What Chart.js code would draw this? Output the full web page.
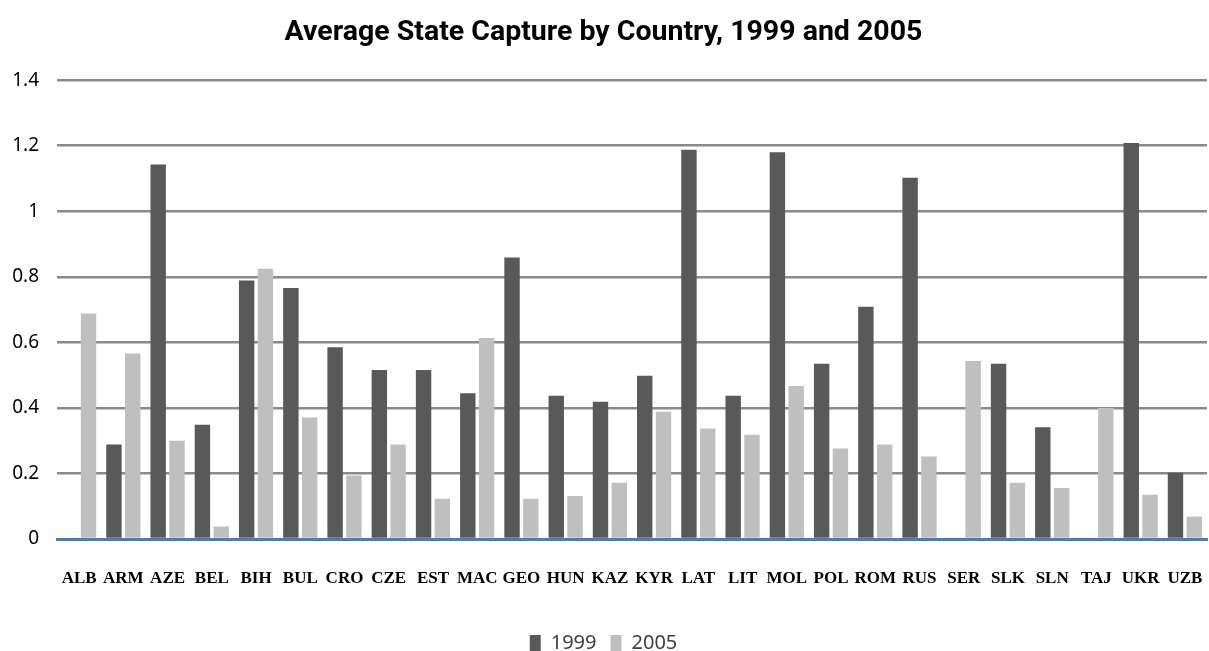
<!DOCTYPE html>
<html lang="en">
  <head>
    <meta charset="UTF-8" />
    <title>Average State Capture by Country, 1999 and 2005</title>
    <script src="https://cdn.jsdelivr.net/npm/chart.js@4.4.0/dist/chart.umd.min.js"></script>
    <style>
      body { margin: 0; background: #fff; }
      #wrap { width: 1209px; height: 651px; }
    </style>
  </head>
  <body>
    <div id="wrap"><canvas id="myChart"></canvas></div>
    <script>
      const countries = ["ALB", "ARM", "AZE", "BEL", "BIH", "BUL", "CRO", "CZE", "EST", "MAC", "GEO", "HUN", "KAZ", "KYR", "LAT", "LIT", "MOL", "POL", "ROM", "RUS", "SER", "SLK", "SLN", "TAJ", "UKR", "UZB"]
      const capture1999 = [0, 0.288, 1.143, 0.349, 0.789, 0.766, 0.585, 0.516, 0.516, 0.445, 0.859, 0.437, 0.419, 0.498, 1.188, 0.437, 1.18, 0.535, 0.709, 1.102, 0, 0.535, 0.341, 0, 1.208, 0.202]
      const capture2005 = [0.688, 0.566, 0.3, 0.038, 0.825, 0.371, 0.194, 0.288, 0.123, 0.613, 0.123, 0.131, 0.172, 0.388, 0.337, 0.318, 0.467, 0.276, 0.288, 0.252, 0.543, 0.172, 0.156, 0.4, 0.135, 0.069]
      const yTicks = [0, 0.2, 0.4, 0.6, 0.8, 1, 1.2, 1.4]

      const ctx = document.getElementById("myChart").getContext("2d")
      const myChart = new Chart(ctx, {
        type: "bar",
        data: {
          labels: countries,
          datasets: [
            {
              label: "1999",
              data: capture1999,
              backgroundColor: "#595959",
              categoryPercentage: 0.85,
              barPercentage: 0.82,
            },
            {
              label: "2005",
              data: capture2005,
              backgroundColor: "#bfbfbf",
              categoryPercentage: 0.85,
              barPercentage: 0.82,
            },
          ],
        },
        options: {
          responsive: true,
          maintainAspectRatio: false,
          animation: false,
          layout: { padding: { left: 0, right: 2, top: 0, bottom: -12 } },
          plugins: {
            title: {
              display: true,
              text: "Average State Capture by Country, 1999 and 2005",
              color: "#000",
              font: { family: "Roboto", size: 28.5, weight: "bold" },
              padding: { top: 16, bottom: 30 },
            },
            legend: {
              position: "bottom",
              labels: {
                color: "#404040",
                font: { family: "Noto Sans", size: 20 },
                boxWidth: 11,
                boxHeight: 16,
                padding: 14,
              },
            },
            tooltip: { enabled: false },
          },
          scales: {
            x: {
              grid: {
                display: true,
                color: "rgba(0,0,0,0)",
                drawOnChartArea: false,
                drawTicks: true,
                tickLength: 27,
              },
              border: { color: "#4a7ebb", width: 3 },
              ticks: {
                color: "#000",
                font: { family: "Liberation Serif", size: 17, weight: "bold" },
                maxRotation: 0,
                autoSkip: false,
                padding: 2,
              },
              afterFit: (s) => { s.height = 80 },
            },
            y: {
              min: 0,
              max: 1.4,
              afterBuildTicks: (s) => { s.ticks = yTicks.map((v) => ({ value: v })) },
              border: { display: false },
              grid: {
                color: (c) => (c.tick && c.tick.value === 0 ? "rgba(0,0,0,0)" : "#8a8a8a"),
                lineWidth: 2.5,
                drawTicks: false,
              },
              ticks: {
                color: "#000",
                font: { family: "Noto Sans", size: 19 },
                padding: 18,
                callback: (v) => String(v),
              },
              afterFit: (s) => { s.width = 57 },
            },
          },
        },
      })
    </script>
  </body>
</html>
